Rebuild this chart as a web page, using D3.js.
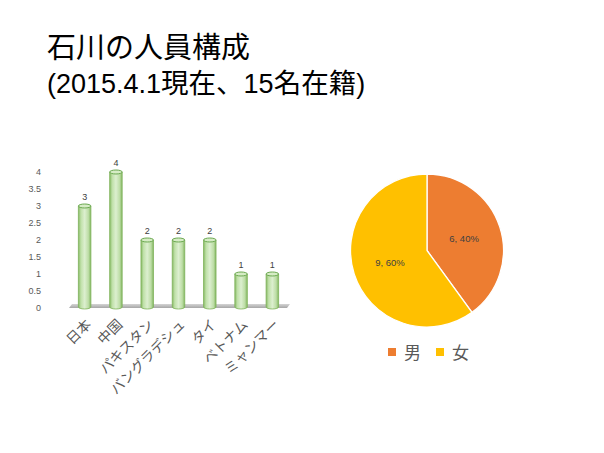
<!DOCTYPE html>
<html><head><meta charset="utf-8">
<script src="https://cdn.jsdelivr.net/npm/d3@7"></script>
<style>body{margin:0;background:#fff}svg{display:block}</style>
</head><body>
<script>
const categories = ["日本","中国","パキスタン","バングラデシュ","タイ","ベトナム","ミャンマー"];
const counts = [3,4,2,2,2,1,1];
const yTicks = [0,0.5,1,1.5,2,2.5,3,3.5,4];
const genders = ["男","女"];
const genderCounts = [6,9];
const genderColors = ["#ED7D31","#FFC000"];

const W=604,H=453;
const svg=d3.select("body").append("svg").attr("width",W).attr("height",H);
const font="'Noto Sans CJK JP','Noto Sans',sans-serif";
const latin="'Liberation Sans','Open Sans',sans-serif";

// Title
svg.append("text").attr("x",47).attr("y",58).attr("font-family",font).attr("font-size",29).attr("fill","#000").text("石川の人員構成");
const t2=svg.append("text").attr("x",47).attr("y",93).attr("font-family",font).attr("font-size",27.5).attr("fill","#000");
[["(2015.4.1",true],["現在、",false],["15",true],["名在籍",false],[")",true]].forEach(([s,l])=>{
  const ts=t2.append("tspan").text(s);
  if(l) ts.attr("font-family",latin).attr("font-size",27);
});

// Bar chart
const defs=svg.append("defs");
const g1=defs.append("linearGradient").attr("id","barg").attr("x1","0").attr("x2","1").attr("y1","0").attr("y2","0");
[[0,"#86b964"],[0.2,"#bfe0a8"],[0.5,"#dcefcf"],[0.8,"#bddda6"],[1,"#82b660"]].forEach(([o,c])=>g1.append("stop").attr("offset",o).attr("stop-color",c));
const fl=defs.append("linearGradient").attr("id","floorg").attr("x1","0").attr("x2","0").attr("y1","0").attr("y2","1");
fl.append("stop").attr("offset",0).attr("stop-color","#d4d4d4");
fl.append("stop").attr("offset",1).attr("stop-color","#a6a6a6");

const y=d3.scaleLinear().domain([0,4]).range([308,172]);
const x=d3.scaleBand().domain(categories).range([69,288]).paddingInner(0.6).paddingOuter(0.3);

const yAxis=svg.append("g").attr("transform","translate(46,0)")
  .call(d3.axisLeft(y).tickValues(yTicks).tickSize(0).tickFormat(d3.format("")));
yAxis.select(".domain").remove();
yAxis.selectAll("text").attr("font-family",latin).attr("font-size",9).attr("fill","#595959").attr("dx",-2);

// floor
svg.append("path").attr("d",`M72,304 L290,304 L287,308 L69,308 Z`).attr("fill","url(#floorg)");

const bars=svg.append("g");
categories.forEach((c,i)=>{
  const bx=x(c), bw=x.bandwidth(), cx=bx+bw/2, top=y(counts[i]), bot=y(0)-1, ry=2;
  bars.append("path").attr("d",`M${bx},${top} L${bx},${bot} A${bw/2},${ry} 0 0 0 ${bx+bw},${bot} L${bx+bw},${top} Z`)
    .attr("fill","url(#barg)").attr("stroke","#7fb35a").attr("stroke-width",0.8);
  bars.append("ellipse").attr("cx",cx).attr("cy",top).attr("rx",bw/2).attr("ry",ry)
    .attr("fill","#d6ecc5").attr("stroke","#6aa84f").attr("stroke-width",1);
  svg.append("text").attr("x",cx).attr("y",top-6).attr("text-anchor","middle")
    .attr("font-family",latin).attr("font-size",9).attr("fill","#404040").text(counts[i]);
});

// x labels rotated
const xAxis=svg.append("g")
  .call(d3.axisBottom(x).tickSize(0).tickPadding(0));
xAxis.select(".domain").remove();
xAxis.selectAll(".tick").attr("transform",d=>`translate(${x(d)+x.bandwidth()/2+4},322)`);
xAxis.selectAll("text")
  .attr("font-family",font).attr("font-size",14).attr("fill","#595959")
  .attr("text-anchor","end").attr("y",0).attr("dy","0.35em")
  .attr("transform","rotate(-45)");

// Pie
const pie=d3.pie().sort(null).startAngle(0).endAngle(2*Math.PI)(genderCounts);
const arc=d3.arc().innerRadius(0).outerRadius(76.5);
const pg=svg.append("g").attr("transform","translate(427,250.5)");
pg.selectAll("path").data(pie).join("path").attr("d",arc).attr("fill",(d,i)=>genderColors[i]).attr("stroke","#fff").attr("stroke-width",1.3);
const total=d3.sum(genderCounts);
const labelArc=d3.arc().innerRadius(39).outerRadius(39);
pg.selectAll("text").data(pie).join("text")
  .attr("transform",d=>`translate(${labelArc.centroid(d)})`)
  .attr("text-anchor","middle").attr("dy","0.35em")
  .attr("font-family",latin).attr("font-size",9.5).attr("fill","#404040")
  .text(d=>`${d.data}, ${Math.round(d.data/total*100)}%`);

// Legend
const lg=svg.append("g");
const lx=[388,436];
genders.forEach((gname,i)=>{
  lg.append("rect").attr("x",lx[i]).attr("y",348).attr("width",8).attr("height",8).attr("fill",genderColors[i]);
  lg.append("text").attr("x",lx[i]+16).attr("y",359).attr("font-family",font).attr("font-size",17).attr("fill","#595959").text(gname);
});
</script>
</body></html>
